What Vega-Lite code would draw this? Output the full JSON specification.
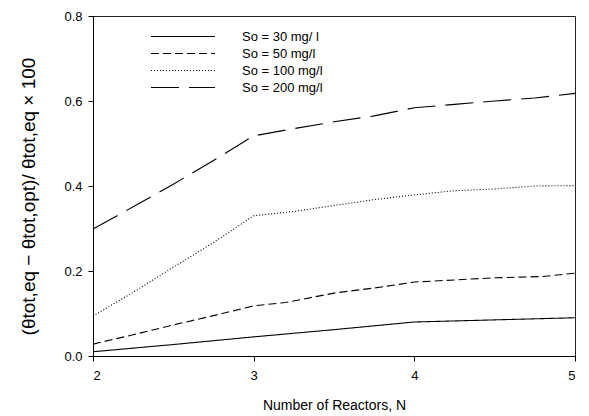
{
  "$schema": "https://vega.github.io/schema/vega-lite/v6.json",
  "width": 482,
  "height": 340,
  "autosize": {"type": "none"},
  "padding": {"left": 93, "top": 16, "right": 14, "bottom": 60},
  "background": "white",
  "config": {
    "font": "Liberation Sans",
    "view": {"stroke": "#222", "strokeWidth": 1},
    "axis": {"grid": false, "domainColor": "#000", "tickColor": "#000", "labelColor": "#000", "titleColor": "#000", "labelFont": "Liberation Sans", "titleFont": "Liberation Sans", "titleFontWeight": "normal", "labelFontSize": 13, "tickSize": 5}
  },
  "data": {
    "values": [
      {"N": 2, "v": 0.010, "s": "So = 30 mg/ l"},
      {"N": 2.5, "v": 0.027, "s": "So = 30 mg/ l"},
      {"N": 3, "v": 0.045, "s": "So = 30 mg/ l"},
      {"N": 3.5, "v": 0.062, "s": "So = 30 mg/ l"},
      {"N": 4, "v": 0.080, "s": "So = 30 mg/ l"},
      {"N": 4.5, "v": 0.085, "s": "So = 30 mg/ l"},
      {"N": 5, "v": 0.090, "s": "So = 30 mg/ l"},
      {"N": 2, "v": 0.028, "s": "So = 50 mg/l"},
      {"N": 2.25, "v": 0.050, "s": "So = 50 mg/l"},
      {"N": 2.5, "v": 0.073, "s": "So = 50 mg/l"},
      {"N": 2.75, "v": 0.095, "s": "So = 50 mg/l"},
      {"N": 3, "v": 0.118, "s": "So = 50 mg/l"},
      {"N": 3.2, "v": 0.126, "s": "So = 50 mg/l"},
      {"N": 3.5, "v": 0.148, "s": "So = 50 mg/l"},
      {"N": 3.75, "v": 0.160, "s": "So = 50 mg/l"},
      {"N": 4, "v": 0.174, "s": "So = 50 mg/l"},
      {"N": 4.25, "v": 0.179, "s": "So = 50 mg/l"},
      {"N": 4.5, "v": 0.184, "s": "So = 50 mg/l"},
      {"N": 4.8, "v": 0.187, "s": "So = 50 mg/l"},
      {"N": 5, "v": 0.195, "s": "So = 50 mg/l"},
      {"N": 2, "v": 0.094, "s": "So = 100 mg/l"},
      {"N": 2.25, "v": 0.150, "s": "So = 100 mg/l"},
      {"N": 2.5, "v": 0.209, "s": "So = 100 mg/l"},
      {"N": 2.75, "v": 0.267, "s": "So = 100 mg/l"},
      {"N": 3, "v": 0.330, "s": "So = 100 mg/l"},
      {"N": 3.25, "v": 0.340, "s": "So = 100 mg/l"},
      {"N": 3.5, "v": 0.354, "s": "So = 100 mg/l"},
      {"N": 3.75, "v": 0.368, "s": "So = 100 mg/l"},
      {"N": 4, "v": 0.379, "s": "So = 100 mg/l"},
      {"N": 4.25, "v": 0.389, "s": "So = 100 mg/l"},
      {"N": 4.5, "v": 0.393, "s": "So = 100 mg/l"},
      {"N": 4.75, "v": 0.400, "s": "So = 100 mg/l"},
      {"N": 5, "v": 0.401, "s": "So = 100 mg/l"},
      {"N": 2, "v": 0.299, "s": "So = 200 mg/l"},
      {"N": 2.25, "v": 0.351, "s": "So = 200 mg/l"},
      {"N": 2.5, "v": 0.404, "s": "So = 200 mg/l"},
      {"N": 2.75, "v": 0.460, "s": "So = 200 mg/l"},
      {"N": 3, "v": 0.518, "s": "So = 200 mg/l"},
      {"N": 3.25, "v": 0.535, "s": "So = 200 mg/l"},
      {"N": 3.5, "v": 0.551, "s": "So = 200 mg/l"},
      {"N": 3.75, "v": 0.565, "s": "So = 200 mg/l"},
      {"N": 4, "v": 0.584, "s": "So = 200 mg/l"},
      {"N": 4.25, "v": 0.592, "s": "So = 200 mg/l"},
      {"N": 4.5, "v": 0.600, "s": "So = 200 mg/l"},
      {"N": 4.75, "v": 0.607, "s": "So = 200 mg/l"},
      {"N": 5, "v": 0.618, "s": "So = 200 mg/l"}
    ]
  },
  "mark": {"type": "line", "color": "#000", "strokeWidth": 1.1},
  "encoding": {
    "x": {
      "field": "N", "type": "quantitative",
      "scale": {"domain": [2, 5], "nice": false, "zero": false},
      "axis": {"values": [2, 3, 4, 5], "format": "d", "title": "Number of Reactors, N", "titleFontSize": 14, "titlePadding": 16, "labelPadding": 8}
    },
    "y": {
      "field": "v", "type": "quantitative",
      "scale": {"domain": [0, 0.8], "nice": false},
      "axis": {"values": [0, 0.2, 0.4, 0.6, 0.8], "format": ".1f", "title": "(θtot,eq − θtot,opt)/ θtot,eq  × 100", "titleFontSize": 19, "titlePadding": 25, "labelPadding": 6, "titleY": 180}
    },
    "strokeDash": {
      "field": "s", "type": "nominal",
      "scale": {
        "domain": ["So = 30 mg/ l", "So = 50 mg/l", "So = 100 mg/l", "So = 200 mg/l"],
        "range": [[1, 0], [8, 4], [1, 2], [28, 10]]
      },
      "legend": {
        "title": null, "orient": "none", "legendX": 57, "legendY": 14,
        "symbolType": "stroke", "symbolSize": 4096, "symbolStrokeColor": "#000", "symbolStrokeWidth": 1.1,
        "clipHeight": 13,
        "labelFontSize": 13, "labelFont": "Liberation Sans", "labelColor": "#000", "labelOffset": 26, "rowPadding": 3
      }
    }
  }
}
